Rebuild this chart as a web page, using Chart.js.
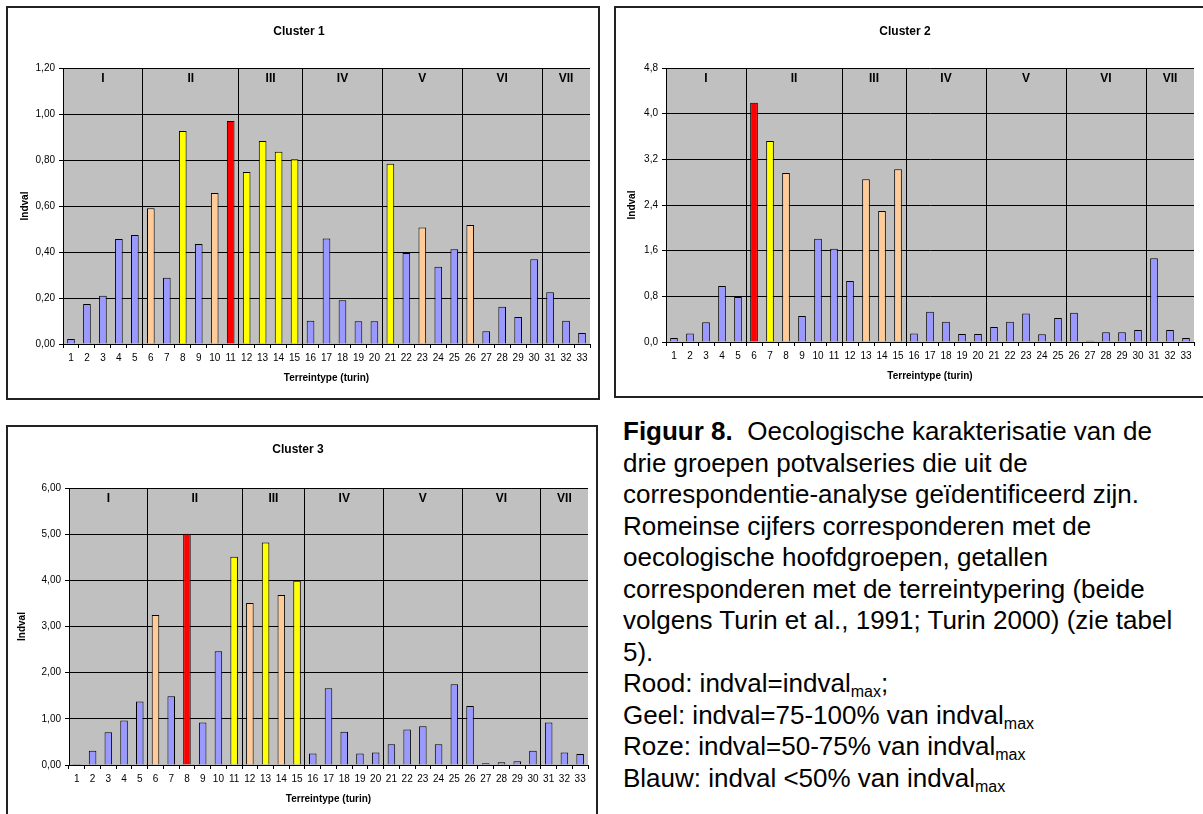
<!DOCTYPE html>
<html><head><meta charset="utf-8">
<script src="https://cdn.jsdelivr.net/npm/chart.js@4.4.0/dist/chart.umd.min.js"></script>
<style>
body{margin:0;width:1203px;height:814px;overflow:hidden;background:#fff;font-family:"Liberation Sans",Arial,sans-serif;position:relative;}
.frame{position:absolute;border:2px solid #222;}
canvas{display:block;}
#cap{position:absolute;left:623px;top:416px;font-size:26px;line-height:31.5px;color:#000;white-space:nowrap;}
#cap sub{font-size:16px;line-height:0;vertical-align:-5px;}
</style></head>
<body>
<div class="frame" style="left:6px;top:6px;width:590px;height:390px"><canvas id="c1" width="590" height="390"></canvas></div>
<div class="frame" style="left:614px;top:6px;width:592px;height:388px"><canvas id="c2" width="587" height="388"></canvas></div>
<div class="frame" style="left:6px;top:425px;width:588px;height:392px"><canvas id="c3" width="588" height="387"></canvas></div>
<div id="cap"><b>Figuur 8.</b>&nbsp; Oecologische karakterisatie van de<br>drie groepen potvalseries die uit de<br>correspondentie-analyse geïdentificeerd zijn.<br>Romeinse cijfers corresponderen met de<br>oecologische hoofdgroepen, getallen<br>corresponderen met de terreintypering (beide<br>volgens Turin et al., 1991; Turin 2000) (zie tabel<br>5).<br>Rood: indval=indval<sub>max</sub>;<br>Geel: indval=75-100% van indval<sub>max</sub><br>Roze: indval=50-75% van indval<sub>max</sub><br>Blauw: indval &lt;50% van indval<sub>max</sub></div>
<script>
// ---- data ----
const categories = ['1','2','3','4','5','6','7','8','9','10','11','12','13','14','15','16','17','18','19','20','21','22','23','24','25','26','27','28','29','30','31','32','33'];
const groupNames = ['I','II','III','IV','V','VI','VII'];
const groupSizes = [5, 6, 4, 5, 5, 5, 3];

const cluster1 = [0.022,0.174,0.21,0.457,0.474,0.59,0.288,0.926,0.435,0.657,0.97,0.748,0.883,0.836,0.803,0.101,0.459,0.19,0.099,0.099,0.784,0.396,0.507,0.336,0.412,0.517,0.055,0.162,0.117,0.368,0.225,0.101,0.048];
const cluster2 = [0.07,0.15,0.345,0.98,0.79,4.19,3.52,2.96,0.455,1.81,1.635,1.07,2.85,2.295,3.025,0.15,0.53,0.356,0.14,0.14,0.263,0.356,0.50,0.134,0.42,0.514,0.02,0.17,0.17,0.21,1.466,0.21,0.07];
const cluster3 = [0.02,0.31,0.71,0.966,1.377,3.25,1.49,5.01,0.92,2.466,4.51,3.51,4.82,3.685,3.99,0.25,1.66,0.72,0.25,0.27,0.45,0.77,0.84,0.45,1.75,1.28,0.036,0.058,0.08,0.31,0.92,0.27,0.24];

const yTicks1 = ['0,00','0,20','0,40','0,60','0,80','1,00','1,20'];
const yTicks2 = ['0,0','0,8','1,6','2,4','3,2','4,0','4,8'];
const yTicks3 = ['0,00','1,00','2,00','3,00','4,00','5,00','6,00'];

// ---- helpers ----
function barColors(vals){
  const mx = Math.max(...vals);
  return vals.map(v => v === mx ? '#FF0000' : v >= 0.75*mx ? '#FFFF00' : v >= 0.5*mx ? '#FFCC99' : '#9999FF');
}
const boundaries = [];
{ let s = 0; for (let i = 0; i < groupSizes.length - 1; i++) { s += groupSizes[i]; boundaries.push(s); } }

const bgPlugin = {
  id: 'plotbg',
  beforeDraw(chart){
    const a = chart.chartArea, ctx = chart.ctx;
    ctx.save(); ctx.fillStyle = '#C0C0C0';
    ctx.fillRect(a.left, a.top, a.right - a.left, a.bottom - a.top);
    ctx.restore();
  }
};
const romanPlugin = {
  id: 'roman',
  afterDraw(chart){
    const x = chart.scales.x, a = chart.chartArea, ctx = chart.ctx;
    ctx.save();
    ctx.font = 'bold 12px "Liberation Sans", Arial, sans-serif';
    ctx.fillStyle = '#000'; ctx.textAlign = 'center'; ctx.textBaseline = 'middle';
    let s = 0;
    groupNames.forEach((g, i) => {
      const e = s + groupSizes[i] - 1;
      const cx = (x.getPixelForValue(s) + x.getPixelForValue(e)) / 2;
      ctx.fillText(g, cx, a.top + 11);
      s += groupSizes[i];
    });
    ctx.restore();
  }
};

function makeChart(id, title, vals, yTicks, maxV, step, L){
  const ff = '"Liberation Sans", Arial, sans-serif';
  new Chart(document.getElementById(id), {
    type: 'bar',
    data: { labels: categories, datasets: [{ data: vals, backgroundColor: barColors(vals), borderColor: '#000', borderWidth: 1, categoryPercentage: 1, barPercentage: 0.48 }] },
    plugins: [bgPlugin, romanPlugin],
    options: {
      responsive: false, animation: false, devicePixelRatio: 1,
      layout: { padding: { left: 0, right: L.right, top: 0, bottom: 0 } },
      plugins: {
        legend: { display: false }, tooltip: { enabled: false },
        title: { display: true, text: title, color: '#000', font: { family: ff, size: 12, weight: 'bold', lineHeight: 1.2 }, padding: { top: L.t1, bottom: L.t2 } }
      },
      scales: {
        x: {
          afterFit(s){ s.height = L.bottom; },
          grid: { offset: true, drawOnChartArea: true, drawTicks: true, tickLength: 4, tickColor: '#000', lineWidth: 1,
                  color: ctx => boundaries.includes(ctx.index) ? '#000' : 'rgba(0,0,0,0)' },
          border: { color: '#000', width: 1 },
          ticks: { color: '#000', padding: 4, autoSkip: false, maxRotation: 0, font: { family: ff, size: 10 } },
          title: { display: true, text: 'Terreintype (turin)', color: '#000', font: { family: ff, size: 10, weight: 'bold', lineHeight: 1.2 }, padding: { top: 0, bottom: L.xt } }
        },
        y: {
          min: 0, max: maxV,
          afterFit(s){ s.width = L.left; },
          grid: { color: '#000', tickColor: '#000', tickLength: 4, lineWidth: 1 },
          border: { color: '#000', width: 1 },
          ticks: { stepSize: step, color: '#000', padding: 4, font: { family: ff, size: 10 },
                   callback: (v, i) => yTicks[i] },
          title: { display: true, text: 'Indval', color: '#000', font: { family: ff, size: 10, weight: 'bold', lineHeight: 1.2 }, padding: { top: L.yt, bottom: 0 } }
        }
      }
    }
  });
}

makeChart('c1', 'Cluster 1', cluster1, yTicks1, 1.2, 0.2, { left: 55, right: 8, bottom: 54, t1: 16, t2: 29.6, xt: 14, yt: 11 });
makeChart('c2', 'Cluster 2', cluster2, yTicks2, 4.8, 0.8, { left: 50, right: 9, bottom: 54, t1: 16, t2: 29.6, xt: 14, yt: 10 });
makeChart('c3', 'Cluster 3', cluster3, yTicks3, 6, 1, { left: 61, right: 8, bottom: 49, t1: 15, t2: 31.6, xt: 9, yt: 8 });
</script>
</body></html>
